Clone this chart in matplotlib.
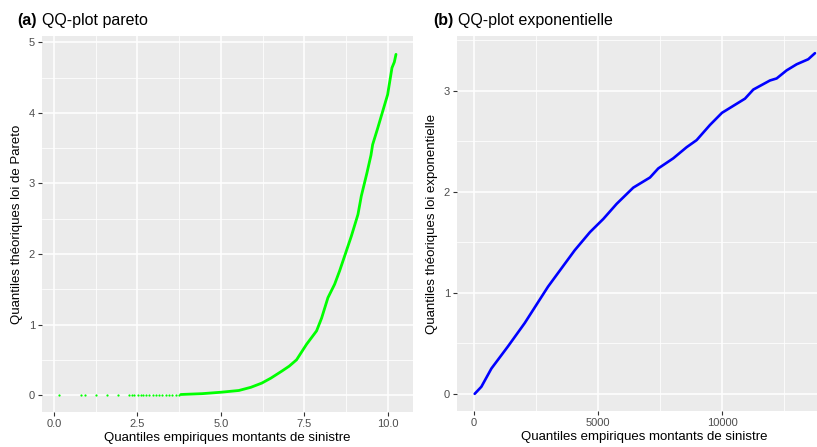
#!/usr/bin/env python3

import matplotlib
matplotlib.use("Agg")
import matplotlib.pyplot as plt
from matplotlib.ticker import MultipleLocator

# --- left panel: QQ-plot pareto ---
pareto_sparse_x = [0.15, 0.80, 0.93, 1.27, 1.60, 1.91, 2.26, 2.33, 2.41, 2.52, 2.60, 2.68, 2.76, 2.86,
                   2.98, 3.06, 3.15, 3.24, 3.35, 3.45, 3.55, 3.65, 3.75]
pareto_sparse_y = [0.0, 0.0, 0.0, 0.0, 0.0, 0.0, 0.002, 0.002, 0.002, 0.003, 0.003, 0.003, 0.004, 0.004,
                   0.004, 0.005, 0.005, 0.005, 0.006, 0.006, 0.007, 0.007, 0.008]
pareto_x = [3.80, 3.90, 4.44, 5.00, 5.54, 5.90, 6.23, 6.50, 6.83, 7.05, 7.27, 7.57, 7.87, 8.02, 8.21, 8.41,
            8.56, 8.76, 8.91, 9.11, 9.21, 9.38, 9.50, 9.55, 9.70, 9.85, 10.00, 10.13, 10.20, 10.25]
pareto_y = [0.008, 0.01, 0.02, 0.04, 0.065, 0.11, 0.17, 0.24, 0.34, 0.41, 0.50, 0.72, 0.91, 1.09, 1.38, 1.57,
            1.76, 2.04, 2.25, 2.56, 2.82, 3.15, 3.40, 3.55, 3.78, 4.02, 4.26, 4.64, 4.72, 4.83]

# --- right panel: QQ-plot exponentielle ---
expo_x = [27, 296, 700, 1371, 2044, 2984, 4060, 4677, 5214, 5754, 6423, 7096, 7431, 8036, 8575, 8978,
          9516, 10000, 10927, 11263, 11935, 12204, 12607, 13010, 13479, 13749]
expo_y = [0.0, 0.07, 0.25, 0.47, 0.70, 1.06, 1.42, 1.60, 1.73, 1.88, 2.04, 2.14, 2.23, 2.33, 2.44, 2.51,
          2.66, 2.78, 2.92, 3.01, 3.10, 3.12, 3.20, 3.26, 3.31, 3.37]

plt.rcParams['font.family'] = ['Liberation Sans', 'DejaVu Sans']

W, H = 817, 447
fig = plt.figure(figsize=(W / 100, H / 100), dpi=100)


def px_axes(l, t, r, b):
    return fig.add_axes([l / W, 1 - b / H, (r - l) / W, (b - t) / H])


def ggplot_style(ax):
    ax.set_facecolor("#EBEBEB")
    for s in ax.spines.values():
        s.set_visible(False)
    ax.grid(which="major", color="white", lw=1.1)
    ax.grid(which="minor", color="white", lw=0.55)
    ax.set_axisbelow(True)
    ax.tick_params(which="major", length=3, width=0.8, color="#333333",
                   labelcolor="#4D4D4D", labelsize=8, pad=2)
    ax.tick_params(which="minor", length=0)


# left
ax1 = px_axes(42, 36, 413, 412)
ggplot_style(ax1)
ax1.plot(pareto_sparse_x, pareto_sparse_y, "o", color="#00FF00", ms=1.6, mew=0)
ax1.plot(pareto_x, pareto_y, "-", color="#00FF00", lw=2.0, solid_capstyle="round")
ax1.set_xlim(-0.36, 10.76)
ax1.set_ylim(-0.24, 5.09)
ax1.xaxis.set_minor_locator(MultipleLocator(1.25))
ax1.yaxis.set_major_locator(MultipleLocator(1))
ax1.yaxis.set_minor_locator(MultipleLocator(0.5))
ax1.set_xticks([0, 2.5, 5, 7.5, 10])
ax1.set_xticklabels(["0.0", "2.5", "5.0", "7.5", "10.0"])
ax1.set_xlabel("Quantiles empiriques montants de sinistre", fontsize=9.5, labelpad=2)
ax1.set_ylabel("Quantiles théoriques loi de Pareto", fontsize=9.5, labelpad=4)

# right
ax2 = px_axes(457, 36, 832, 411)
ggplot_style(ax2)
ax2.plot(expo_x, expo_y, "-", color="#0000FF", lw=1.9, solid_capstyle="round")
ax2.set_xlim(-687, 14437)
ax2.set_ylim(-0.17, 3.54)
ax2.xaxis.set_major_locator(MultipleLocator(5000))
ax2.xaxis.set_minor_locator(MultipleLocator(2500))
ax2.yaxis.set_major_locator(MultipleLocator(1))
ax2.yaxis.set_minor_locator(MultipleLocator(0.5))
ax2.set_xlabel("Quantiles empiriques montants de sinistre", fontsize=9.5, labelpad=2)
ax2.set_ylabel("Quantiles théoriques loi exponentielle", fontsize=9.5, labelpad=4)

# titles
fig.text(17 / W, 1 - 21 / H, "(a)", fontsize=11.5, fontweight="bold", va="center")
fig.text(42 / W, 1 - 21 / H, "QQ-plot pareto", fontsize=11.5, va="center")
fig.text(433 / W, 1 - 21 / H, "(b)", fontsize=11.5, fontweight="bold", va="center")
fig.text(458 / W, 1 - 21 / H, "QQ-plot exponentielle", fontsize=11.5, va="center")

fig.savefig("out.png", dpi=100)
